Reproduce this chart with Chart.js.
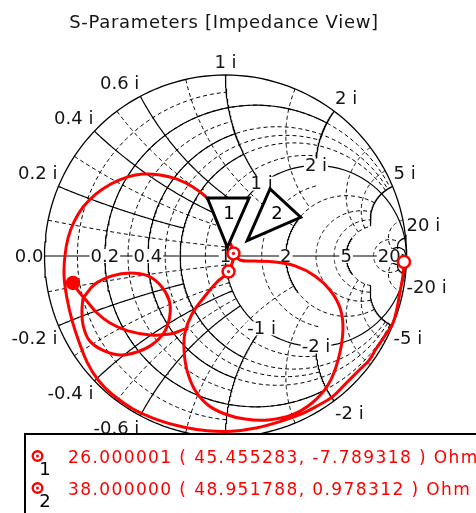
<!DOCTYPE html>
<html>
<head>
<meta charset="utf-8">
<script src="https://cdn.jsdelivr.net/npm/chart.js@4.4.0/dist/chart.umd.min.js"></script>
<style>
html, body { margin: 0; padding: 0; background: #fff; }
canvas { display: block; }
</style>
</head>
<body>
<canvas id="smith" width="476" height="513"></canvas>
<script>
// reflection coefficient of the sweep (re / im)
const sweepRe = [0.986, 0.981, 0.964, 0.948, 0.924, 0.877, 0.831, 0.794, 0.739, 0.666, 0.592, 0.511, 0.427, 0.300, 0.168, 0.034, -0.101, -0.235, -0.375, -0.511, -0.622, -0.704, -0.765, -0.809, -0.848, -0.876, -0.892, -0.887, -0.870, -0.837, -0.787, -0.715, -0.633, -0.544, -0.456, -0.362, -0.268, -0.180, -0.102, -0.041, 0.008, 0.044, 0.017, -0.047, -0.113, -0.185, -0.224, -0.229, -0.213, -0.169, -0.097, -0.003, 0.108, 0.235, 0.367, 0.478, 0.566, 0.622, 0.649, 0.633, 0.577, 0.494, 0.384, 0.273, 0.163, 0.080, 0.044];
const sweepIm = [-0.033, -0.105, -0.199, -0.287, -0.372, -0.446, -0.514, -0.575, -0.630, -0.703, -0.777, -0.826, -0.869, -0.915, -0.950, -0.968, -0.965, -0.945, -0.905, -0.845, -0.768, -0.685, -0.586, -0.475, -0.354, -0.232, -0.110, 0.000, 0.099, 0.188, 0.271, 0.343, 0.398, 0.436, 0.453, 0.448, 0.425, 0.381, 0.320, 0.227, 0.110, 0.014, -0.086, -0.144, -0.221, -0.320, -0.425, -0.519, -0.630, -0.740, -0.823, -0.873, -0.901, -0.906, -0.878, -0.812, -0.713, -0.575, -0.409, -0.287, -0.188, -0.110, -0.055, -0.033, -0.028, -0.022, 0.014];
const loopRe = [-0.787, -0.721, -0.627, -0.527, -0.428, -0.356, -0.312, -0.307, -0.334, -0.401, -0.489, -0.583, -0.682, -0.754, -0.787, -0.793, -0.787];
const loopIm = [-0.232, -0.155, -0.110, -0.094, -0.110, -0.166, -0.243, -0.326, -0.414, -0.486, -0.530, -0.547, -0.519, -0.464, -0.381, -0.298, -0.232];
const tailRe = [-0.843, -0.809, -0.771, -0.710, -0.638, -0.539, -0.417, -0.307, -0.224];
const tailIm = [-0.149, -0.199, -0.243, -0.315, -0.370, -0.414, -0.436, -0.431, -0.403];

// end points and markers
const startPoint = [0.986, -0.033];
const endPoint = [-0.843, -0.149];
const markerRe = [0.017, 0.044];
const markerIm = [-0.086, 0.014];
const markerNames = ['1', '2'];
const markerText = ['26.000001 ( 45.455283, -7.789318 ) Ohm', '38.000000 ( 48.951788, 0.978312 ) Ohm'];

// grid: normalised resistance circles / reactance arcs and how far each one runs
const rSolid = [0.2, 0.4, 0.6, 1, 2, 5, 20];
const rSolidReach = [2, 1, 1, 1e6, 1, 2, 1e6];
const rDashed = [0.1, 0.3, 0.5, 0.8, 1.5, 3, 4, 10];
const rDashedReach = [1, 1, 2, 2, 2, 5, 5, 20];
const xSolid = [0.2, 0.4, 0.6, 1, 2, 5, 20];
const xSolidReach = [0.6, 1, 1, 1, 1, 5, 1e6];
const xDashed = [0.1, 0.3, 0.5, 0.8, 1.5, 3, 4, 10];
const xDashedReach = [1, 1, 1, 2, 2, 5, 5, 20];

// tick labels
const rimTicks = [0.2, 0.4, 0.6, 1, 2, 5, 20];
const innerTicks = [1, 2];
const axisTicks = [0.2, 0.4, 1, 2, 5, 20];

const FONT = '"DejaVu Sans", Verdana, sans-serif';
const INK = '#151515';

function gamma(r, x) {
    const d = (r + 1) * (r + 1) + x * x;
    return { x: (r * r - 1 + x * x) / d, y: (2 * x) / d };
}

function rArc(r, reach) {
    const pts = [];
    const a = Math.atan(reach);
    for (let i = 0; i <= 160; i++) {
        const t = -a + (2 * a * i) / 160;
        pts.push(gamma(r, Math.tan(t)));
    }
    return pts;
}

function xArc(x, reach) {
    const pts = [];
    const a = Math.atan(reach);
    for (let i = 0; i <= 100; i++) {
        pts.push(gamma(Math.tan((a * i) / 100), x));
    }
    return pts;
}

function gridSet(data, dashed, width) {
    return {
        data: data,
        showLine: true,
        borderColor: '#000',
        borderWidth: width || 1,
        borderDash: dashed ? [4, 3] : [],
        pointRadius: 0,
        tension: 0,
        clip: false,
        order: 10
    };
}

const datasets = [];
// outer circle and real axis
datasets.push(gridSet(rArc(0, 1e6), false, 1.3));
datasets.push(gridSet([{ x: -1, y: 0 }, { x: 1, y: 0 }], false, 1.2));
rSolid.forEach((r, i) => {
    datasets.push(gridSet(rArc(r, rSolidReach[i]), false, 1.2));
    if (rSolidReach[i] < 1e5) datasets.push(gridSet(rArc(r, 5), true, 1));
});
rDashed.forEach((r, i) => datasets.push(gridSet(rArc(r, rDashedReach[i]), true, 1)));
xSolid.forEach((x, i) => {
    datasets.push(gridSet(xArc(x, xSolidReach[i]), false, 1.2));
    datasets.push(gridSet(xArc(-x, xSolidReach[i]), false, 1.2));
});
xDashed.forEach((x, i) => {
    datasets.push(gridSet(xArc(x, xDashedReach[i]), true, 1));
    datasets.push(gridSet(xArc(-x, xDashedReach[i]), true, 1));
});
const firstTrace = datasets.length;

function traceSet(re, im) {
    return {
        label: 'trace',
        data: re.map((v, i) => ({ x: v, y: im[i] })),
        showLine: true,
        borderColor: '#ff0000',
        borderWidth: 3,
        pointRadius: 0,
        tension: 0.4,
        clip: false,
        order: 2
    };
}
datasets.push(traceSet(sweepRe, sweepIm));
datasets.push(traceSet(loopRe, loopIm));
datasets.push(traceSet(tailRe, tailIm));

datasets.push({
    label: 'ends',
    data: [{ x: startPoint[0], y: startPoint[1] }, { x: endPoint[0], y: endPoint[1] }],
    showLine: false,
    pointRadius: 6,
    pointBorderWidth: 2.5,
    pointBorderColor: '#ff0000',
    pointBackgroundColor: ['#ffffff', '#ff0000'],
    clip: false,
    order: 1
});
datasets.push({
    label: 'markers',
    data: markerRe.map((v, i) => ({ x: v, y: markerIm[i] })),
    showLine: false,
    pointRadius: 6,
    pointBorderWidth: 2.5,
    pointBorderColor: '#ff0000',
    pointBackgroundColor: '#ffffff',
    clip: false,
    order: 0
});

function plainText(ctx, text, px, py, align, base) {
    ctx.save();
    ctx.font = '18px ' + FONT;
    ctx.textAlign = align;
    ctx.textBaseline = base;
    ctx.fillStyle = INK;
    ctx.fillText(text, px, py);
    ctx.restore();
}

function whiteText(ctx, text, px, py) {
    ctx.save();
    ctx.font = '18px ' + FONT;
    const w = ctx.measureText(text).width;
    ctx.fillStyle = '#fff';
    ctx.fillRect(px - w / 2 - 1, py - 7, w + 2, 14);
    ctx.textAlign = 'center';
    ctx.textBaseline = 'middle';
    ctx.fillStyle = INK;
    ctx.fillText(text, px, py + 1);
    ctx.restore();
}

const smithLabels = {
    id: 'smithLabels',
    beforeDatasetDraw(chart, args) {
        if (args.index !== firstTrace) return;
        const ctx = chart.ctx;
        const sx = chart.scales.x, sy = chart.scales.y;
        const cx = sx.getPixelForValue(0);
        const P = g => [sx.getPixelForValue(g.x), sy.getPixelForValue(g.y)];
        rimTicks.forEach(v => {
            [1, -1].forEach(s => {
                const [px, py] = P(gamma(0, s * v));
                const align = Math.abs(px - cx) < 2 ? 'center' : (px > cx ? 'left' : 'right');
                const dx = align === 'left' ? 1 : (align === 'right' ? -1 : 0);
                plainText(ctx, (s < 0 ? '-' : '') + v + ' i', px + dx, s > 0 ? py - 3 : py + 5, align, s > 0 ? 'bottom' : 'top');
            });
        });
        const [lx, ly] = P(gamma(0, 0));
        plainText(ctx, '0.0', lx - 1, ly + 1, 'right', 'middle');
        innerTicks.forEach(v => {
            [1, -1].forEach(s => {
                const [px, py] = P(gamma(1, s * v));
                whiteText(ctx, (s < 0 ? '-' : '') + v + ' i', px, py);
            });
        });
        axisTicks.forEach(v => {
            const [px, py] = P(gamma(v, 0));
            whiteText(ctx, String(v), px, py);
        });
    },
    afterDatasetsDraw(chart) {
        const ctx = chart.ctx;
        const sx = chart.scales.x, sy = chart.scales.y;
        const mk = markerRe.map((v, i) => [sx.getPixelForValue(v), sy.getPixelForValue(markerIm[i])]);
        mk.forEach(([px, py]) => {
            ctx.save();
            ctx.fillStyle = '#ff0000';
            ctx.beginPath();
            ctx.arc(px, py, 1.6, 0, Math.PI * 2);
            ctx.fill();
            ctx.restore();
        });

        // marker flags, pixel offsets from each marker
        const flags = [
            [[-21.2, -73.5], [20.5, -73.5], [-1.2, -24.2], [0.5, -57.5]],
            [[36.5, -64.5], [67.2, -36.2], [13.8, -12.8], [43.5, -39.5]]
        ];
        flags.forEach((f, i) => {
            const [px, py] = mk[i];
            ctx.save();
            ctx.beginPath();
            ctx.moveTo(px + f[0][0], py + f[0][1]);
            ctx.lineTo(px + f[1][0], py + f[1][1]);
            ctx.lineTo(px + f[2][0], py + f[2][1]);
            ctx.closePath();
            ctx.fillStyle = '#fff';
            ctx.fill();
            ctx.lineWidth = 3;
            ctx.strokeStyle = '#000';
            ctx.stroke();
            ctx.font = '18px ' + FONT;
            ctx.textAlign = 'center';
            ctx.textBaseline = 'middle';
            ctx.fillStyle = '#000';
            ctx.fillText(markerNames[i], px + f[3][0], py + f[3][1]);
            ctx.restore();
        });

        // title
        ctx.save();
        ctx.font = '18px ' + FONT;
        ctx.letterSpacing = '0.7px';
        ctx.textAlign = 'center';
        ctx.textBaseline = 'middle';
        ctx.fillStyle = INK;
        ctx.fillText('S-Parameters [Impedance View]', 224, 23);
        ctx.restore();

        // marker readout box
        ctx.save();
        ctx.fillStyle = '#fff';
        ctx.fillRect(24, 433, 470, 90);
        ctx.lineWidth = 2;
        ctx.strokeStyle = '#000';
        ctx.strokeRect(25, 434, 470, 90);
        markerText.forEach((t, i) => {
            const y = 458 + i * 32;
            ctx.beginPath();
            ctx.arc(37.5, y - 2, 4.8, 0, Math.PI * 2);
            ctx.lineWidth = 2.4;
            ctx.strokeStyle = '#ff0000';
            ctx.stroke();
            ctx.beginPath();
            ctx.arc(37.5, y - 2, 1.5, 0, Math.PI * 2);
            ctx.fillStyle = '#ff0000';
            ctx.fill();
            ctx.font = '17px ' + FONT;
            ctx.letterSpacing = '1.4px';
            ctx.textAlign = 'left';
            ctx.textBaseline = 'middle';
            ctx.fillStyle = '#ff0000';
            ctx.fillText(t, 68, y + 1);
            ctx.letterSpacing = '0px';
            ctx.font = '18px ' + FONT;
            ctx.fillStyle = '#000';
            ctx.textAlign = 'center';
            ctx.fillText(markerNames[i], 45, y + 12);
        });
        ctx.restore();
    }
};

new Chart(document.getElementById('smith'), {
    type: 'scatter',
    data: { datasets: datasets },
    options: {
        responsive: false,
        animation: false,
        layout: { padding: { left: 44.5, right: 69.5, top: 75, bottom: 76 } },
        scales: {
            x: { type: 'linear', min: -1, max: 1, display: false },
            y: { type: 'linear', min: -1, max: 1, display: false }
        },
        plugins: {
            legend: { display: false },
            tooltip: { enabled: false }
        }
    },
    plugins: [smithLabels]
});
</script>
</body>
</html>
